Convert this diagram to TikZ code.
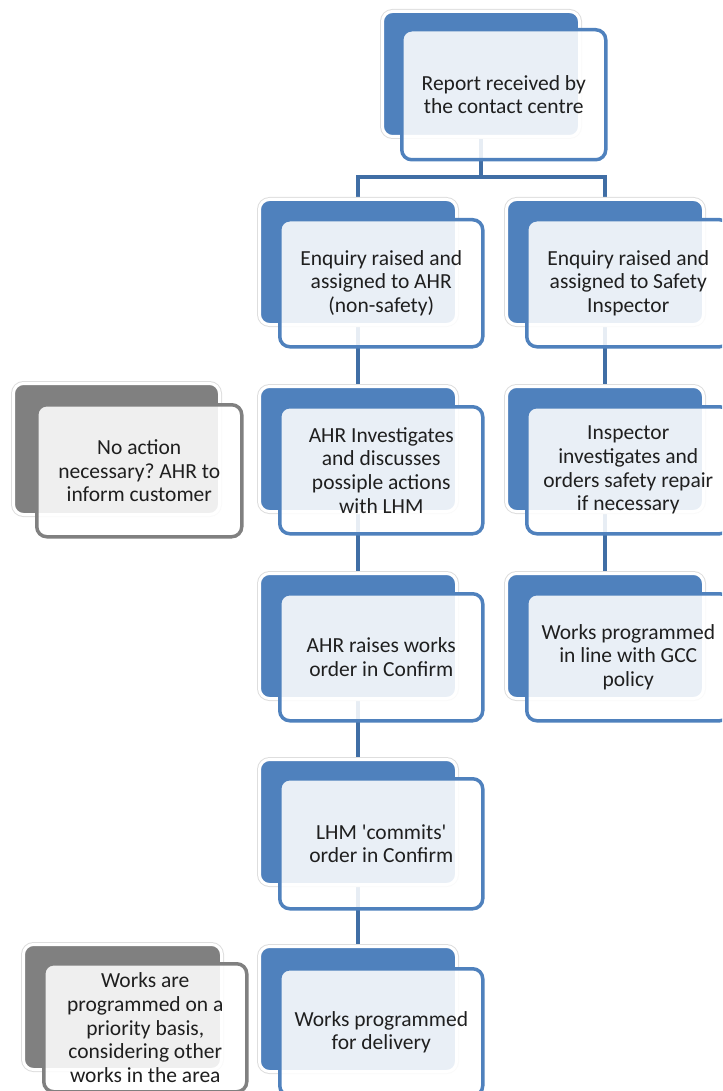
\documentclass[tikz,border=0pt]{standalone}
\usepackage{fontspec}
\setmainfont{Carlito}
\frenchspacing
\definecolor{accblue}{HTML}{4F81BD}
\definecolor{linkblue}{RGB}{64,110,165}
\definecolor{accgray}{HTML}{808080}
\definecolor{txt}{HTML}{1F1F1F}
\pgfdeclarelayer{bg}
\pgfsetlayers{bg,main}
\tikzset{
  backcard/.style={rectangle, rounded corners=10pt, anchor=north west, inner sep=0pt,
    minimum width=197pt, minimum height=125pt, fill=#1,
    preaction={draw=black!13, line width=5pt}, draw=white, line width=3pt},
  frontcard/.style={rectangle, rounded corners=10pt, anchor=north west, inner sep=2pt,
    minimum width=203pt, minimum height=127pt, draw=#1, line width=3.5pt,
    fill=white, fill opacity=0.88, text opacity=1, align=center, text=txt,
    font=\fontsize{21.5}{23.7}\selectfont\frenchspacing},
  link/.style={draw=linkblue, line width=4pt}
}
\begin{document}
\begin{tikzpicture}[x=1pt,y=-1pt]
\useasboundingbox (0,0) rectangle (722,1091);
\clip (0,0) rectangle (722,1091);
% top
\node[backcard=accblue] (b0) at (381,10) {};
\node[frontcard=accblue, minimum width=204pt, minimum height=130pt] (f0) at (400,28) {Report received by\\the contact centre};
% row 2
\node[backcard=accblue] (b1) at (258,198) {};
\node[frontcard=accblue] (f1) at (278,218) {Enquiry raised and\\assigned to AHR\\(non-safety)};
\node[backcard=accblue] (b2) at (505,198) {};
\node[frontcard=accblue] (f2) at (525,218) {Enquiry raised and\\assigned to Safety\\Inspector};
% row 3
\node[backcard=accgray, minimum width=206pt, minimum height=131pt] (g1b) at (12,382) {};
\node[frontcard=accgray, minimum width=205pt, minimum height=132pt] (g1) at (35,403) {No action\\necessary? AHR to\\inform customer};
\node[backcard=accblue] (b3) at (258,385) {};
\node[frontcard=accblue] (f3) at (278,405) {AHR Investigates\\and discusses\\possiple actions\\with LHM};
\node[backcard=accblue] (b4) at (505,385) {};
\node[frontcard=accblue] (f4) at (525,405) {Inspector\\investigates and\\orders safety repair\\if necessary};
% row 4
\node[backcard=accblue] (b5) at (258,572) {};
\node[frontcard=accblue] (f5) at (278,592) {AHR raises works\\order in Confirm};
\node[backcard=accblue] (b6) at (505,572) {};
\node[frontcard=accblue] (f6) at (525,592) {Works programmed\\in line with GCC\\policy};
% row 5
\node[backcard=accblue] (b7) at (258,758) {};
\node[frontcard=accblue, minimum height=130pt] (f7) at (278,777) {LHM \textquotesingle commits\textquotesingle\\order in Confirm};
% row 6
\node[backcard=accgray, minimum width=198pt] (g2b) at (22,943) {};
\node[frontcard=accgray, minimum height=128pt] (g2) at (42,962) {Works are\\programmed on a\\priority basis,\\considering other\\works in the area};
\node[backcard=accblue] (b8) at (258,945) {};
\node[frontcard=accblue] (f8) at (278,967) {Works programmed\\for delivery};
% connectors
\begin{pgfonlayer}{bg}
\coordinate (j) at (480,177);
\draw[link] (b0.center) -- (b0.center |- j) -| (b1.center);
\draw[link] (b0.center |- j) -| (b2.center);
\draw[link] (b1.center) -- (b3.center);
\draw[link] (b3.center) -- (b5.center);
\draw[link] (b5.center) -- (b7.center);
\draw[link] (b7.center) -- (b8.center);
\draw[link] (b2.center) -- (b4.center);
\draw[link] (b4.center) -- (b6.center);
\end{pgfonlayer}
\end{tikzpicture}
\end{document}
